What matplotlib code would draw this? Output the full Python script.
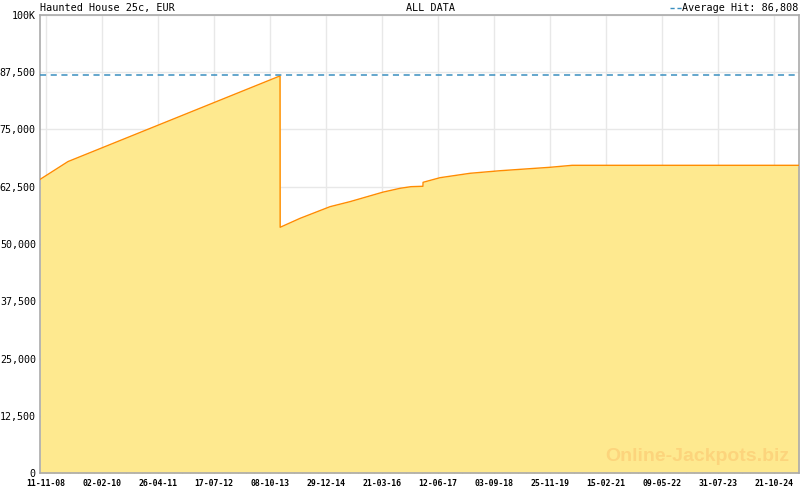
import numpy as np
import matplotlib.pyplot as plt
import matplotlib.dates as mdates
from matplotlib.ticker import FixedLocator, FuncFormatter

# Jackpot history
dates = ['2008-09-24', '2009-05-06', '2013-12-27', '2013-12-28', '2014-06-05',
         '2015-01-31', '2015-07-10', '2016-03-30', '2016-08-13', '2016-11-09',
         '2017-02-12', '2017-02-13', '2017-06-29', '2018-02-24', '2018-10-22',
         '2019-11-26', '2020-05-20', '2025-05-09']
values = [64100, 68000, 86700, 53650, 55600,
          58150, 59250, 61330, 62160, 62520,
          62600, 63470, 64480, 65440, 66000,
          66750, 67180, 67180]
average_hit = 86808

tick_dates = ['2008-11-11', '2010-02-02', '2011-04-26', '2012-07-17', '2013-10-08',
              '2014-12-29', '2016-03-21', '2017-06-12', '2018-09-03', '2019-11-25',
              '2021-02-15', '2022-05-09', '2023-07-31', '2024-10-21']
y_ticks = [0, 12500, 25000, 37500, 50000, 62500, 75000, 87500, 100000]

x = np.array(dates, dtype='datetime64[D]')
xt = np.array(tick_dates, dtype='datetime64[D]')

mono = 'DejaVu Sans Mono'
frame = '#aaaaaa'
blue = '#3a8fc0'

fig = plt.figure(figsize=(8, 4.9), dpi=100)
ax = fig.add_axes([40 / 800, 17 / 490, 759 / 800, 458 / 490])

ax.fill_between(x, values, 0, color='#fee98f', lw=0, zorder=2)
ax.plot(x, values, color='#ff8c00', lw=1, zorder=3)
ax.axhline(average_hit, color=blue, lw=1.1, ls=(0, (4, 3)), zorder=4)

ax.set_xlim(np.datetime64('2008-09-24'), np.datetime64('2025-05-09'))
ax.set_ylim(0, 100000)

ax.xaxis.set_major_locator(FixedLocator(mdates.date2num(xt)))
ax.xaxis.set_major_formatter(mdates.DateFormatter('%d-%m-%y'))
minor = np.arange(xt[0] - np.timedelta64(64, 'D'), np.datetime64('2025-05-09'), np.timedelta64(64, 'D'))
ax.xaxis.set_minor_locator(FixedLocator(mdates.date2num(minor)))

ax.set_yticks(y_ticks)
ax.yaxis.set_major_formatter(FuncFormatter(lambda v, p: '100K' if v == 100000 else f'{int(v):,}'))

ax.grid(True, color='#e8e8e8', lw=1, zorder=0)
ax.set_axisbelow(True)
for s in ax.spines.values():
    s.set_color(frame)
    s.set_linewidth(1.2)

ax.tick_params(axis='x', which='major', direction='in', length=6, color=frame,
               labelsize=5.9, pad=4.5)
ax.tick_params(axis='x', which='minor', direction='in', length=3, color=frame)
ax.tick_params(axis='y', length=0, labelsize=7.2, pad=3)
for lab in ax.get_xticklabels() + ax.get_yticklabels():
    lab.set_family(mono)
for lab in ax.get_xticklabels():
    lab.set_fontweight('bold')

top = 1 - 8 / 490
fig.text(40 / 800, top, 'Haunted House 25c, EUR', family=mono, fontsize=7.3,
         va='center', ha='left')
fig.text(430 / 800, top, 'ALL DATA', family=mono, fontsize=7.3,
         va='center', ha='center')
fig.text(798 / 800, top, f'Average Hit: {average_hit:,}', family=mono, fontsize=7.3,
         va='center', ha='right')
fig.add_artist(plt.Line2D([670 / 800, 683 / 800], [top, top], transform=fig.transFigure,
                          color=blue, lw=1, ls=(0, (3, 2))))

ax.text(0.987, 0.017, 'Online-Jackpots.biz', transform=ax.transAxes, ha='right', va='bottom',
        fontsize=14, fontweight='bold', family='Liberation Sans', color='#fcd47c', zorder=5)

fig.savefig('out.png', dpi=100)
